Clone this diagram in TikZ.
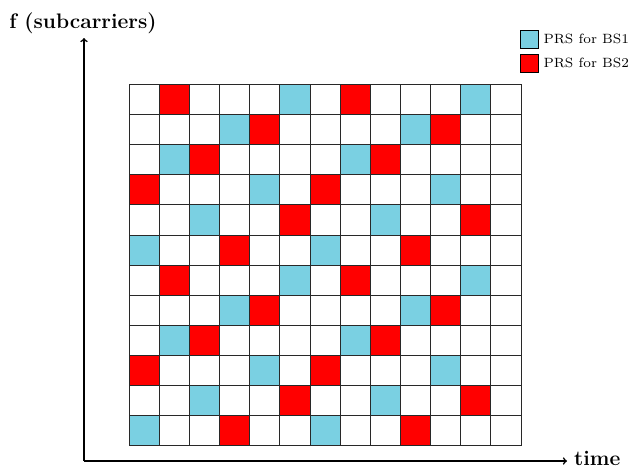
\documentclass[tikz,border=0pt]{standalone}
\usepackage{graphicx}
\begin{document}
\definecolor{prsblue}{RGB}{122,208,226}
\definecolor{prsred}{RGB}{255,0,0}
\definecolor{gridc}{RGB}{40,40,40}
\newcommand{\legfont}[1]{\scalebox{1.92}{\fontsize{7}{8}\selectfont #1}}
\begin{tikzpicture}[x=1pt,y=-1pt,
  gridline/.style={draw=gridc,line width=0.8pt},
  axisline/.style={draw=black,line width=1.6pt,->},
  lbl/.style={font=\fontsize{21}{25}\selectfont\bfseries,inner sep=0pt},
  legbox/.style={draw=black,line width=0.6pt,minimum size=18pt,inner sep=0pt},
  legtext/.style={inner sep=0pt,anchor=west}]
\useasboundingbox (0,0) rectangle (630,469);
\def\cw{30.15}\def\ch{30.12}\def\gx{129}\def\gy{84.3}
% coloured cells
\foreach \k in {0,6}{
  \foreach \r/\bl/\rl in {0/{5,11}/{1,7},1/{3,9}/{4,10},2/{1,7}/{2,8},3/{4,10}/{0,6},4/{2,8}/{5,11},5/{0,6}/{3,9}}{
    \foreach \c in \bl{\fill[prsblue] (\gx+\c*\cw,\gy+\r*\ch+\k*\ch) rectangle ++(\cw,\ch);}
    \foreach \c in \rl{\fill[prsred] (\gx+\c*\cw,\gy+\r*\ch+\k*\ch) rectangle ++(\cw,\ch);}
  }
}
% grid
\foreach \i in {0,...,13}{\draw[gridline] (\gx+\i*\cw,\gy) -- (\gx+\i*\cw,\gy+12*\ch);}
\foreach \j in {0,...,12}{\draw[gridline] (\gx,\gy+\j*\ch) -- (\gx+13*\cw,\gy+\j*\ch);}
% axes
\coordinate (o) at (84,461);
\coordinate (ytop) at (84,38);
\coordinate (xend) at (567,461);
\draw[axisline] (o) -- (ytop);
\draw[axisline] (o) -- (xend);
\node[lbl,anchor=base] (flabel) at (83,28) {f (subcarriers)};
\node[lbl,anchor=base west] (tlabel) at (574,465) {time};
% legend
\node[legbox,fill=prsblue] (lb1) at (529,39) {};
\node[legtext] (lt1) at ([xshift=5pt]lb1.east) {\legfont{PRS for BS1}};
\node[legbox,fill=prsred] (lb2) at (529,63) {};
\node[legtext] (lt2) at ([xshift=5pt]lb2.east) {\legfont{PRS for BS2}};
\end{tikzpicture}
\end{document}
